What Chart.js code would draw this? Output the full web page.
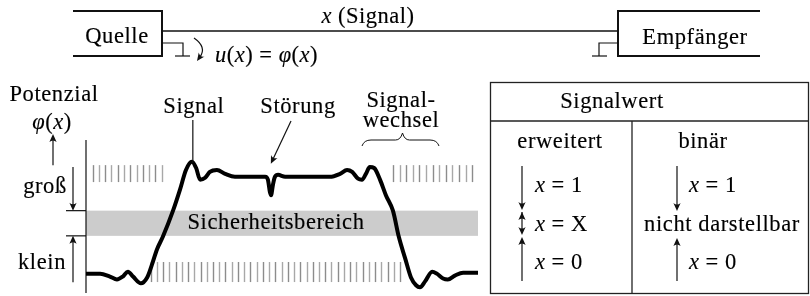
<!DOCTYPE html>
<html><head><meta charset="utf-8">
<script src="https://cdn.jsdelivr.net/npm/chart.js@4/dist/chart.umd.min.js"></script>
<style>html,body{margin:0;padding:0;background:#fff}canvas{display:block}</style>
</head><body>
<canvas id="c" width="810" height="296"></canvas>
<script>
// ---------- data (time t in arbitrary units 0..100, potential v: 0 = klein, 1 = groß) ----------
const sigT = [0,3.6,6.1,7.9,9.4,10.7,12,14,15.6,16.8,18.1,19.6,22.2,24,25.5,27,28.1,29.1,30.4,31.6,33.4,35.5,38,45.7,46.4,46.9,47.2,47.7,48.2,49,50.8,62.2,64.8,66.6,67.9,69.4,70.4,71.4,72.4,73.5,75,76.5,78.3,79.8,81.4,82.9,84.2,85.2,86.5,88.3,89.5,91.1,92.3,94.1,96.2,100];
const sigV = [0,0,-0.03,-0.06,-0.03,0.02,-0.03,-0.10,-0.04,0.09,0.25,0.38,0.65,0.87,1.07,1.155,1.09,0.97,0.99,1.05,1.07,1.03,1.0,1.0,0.97,0.845,0.81,0.92,1.0,1.02,1.0,1.0,1.03,1.07,1.05,0.98,0.97,1.03,1.10,1.09,0.97,0.81,0.65,0.38,0.16,-0.04,-0.12,-0.14,-0.08,0.02,0,-0.05,-0.06,-0.02,0.01,0.01];
const safeBand = [0.39, 0.65];
const hatchHighLeft  = {from: 1.7,  to: 19.3, count: 12, vLo: 0.945, vHi: 1.12};
const hatchHighRight = {from: 78.3, to: 98.5, count: 13, vLo: 0.945, vHi: 1.12};
const hatchLow       = {from: 16.5, to: 80.1, count: 41, vLo: -0.087, vHi: 0.12};
const peakT = 27, peakV = 1.155;      // Signal label target
const glitchT = 46.9, glitchV = 1.0;  // Störung label target

const txtTop = {source: 'Quelle', sink: 'Empfänger', signal: 'Signal'};
const levelLabels = {high: 'groß', low: 'klein', band: 'Sicherheitsbereich', axis: 'Potenzial'};
const noteLabels = {signal: 'Signal', glitch: 'Störung', change1: 'Signal-', change2: 'wechsel'};
const tableHead = 'Signalwert';
const tableCols = ['erweitert', 'binär'];
const tableRowsExt = ['1', 'X', '0'];
const tableRowsBin = ['1', 'nicht darstellbar', '0'];

// ---------- helpers ----------
const FONT = '"Liberation Serif", "DejaVu Serif", serif';
function setFont(ctx, italic, size) {
  ctx.font = (italic ? 'italic ' : '') + (size || 22.5) + 'px ' + FONT;
}
function paint(ctx, s, x, y) {
  ctx.fillText(s, x, y);
  ctx.lineWidth = 0.15; ctx.strokeStyle = '#000'; ctx.strokeText(s, x, y);
}
function drawText(ctx, s, x, y, align) {
  ctx.save(); setFont(ctx, false); ctx.letterSpacing = '0.6px';
  ctx.textAlign = align || 'center'; ctx.textBaseline = 'middle'; ctx.fillStyle = '#000';
  paint(ctx, s, x, y); ctx.restore();
}
// segs: [text, italic]
function drawRich(ctx, segs, x, y, align) {
  ctx.save(); ctx.textBaseline = 'middle'; ctx.textAlign = 'left'; ctx.fillStyle = '#000';
  ctx.letterSpacing = '0.5px';
  let w = 0;
  segs.forEach(s => { setFont(ctx, s[1]); w += ctx.measureText(s[0]).width; });
  let cx = align === 'center' ? x - w / 2 : x;
  segs.forEach(s => { setFont(ctx, s[1]); paint(ctx, s[0], cx, y); cx += ctx.measureText(s[0]).width; });
  ctx.restore();
}
function line(ctx, pts, w, col) {
  ctx.save(); ctx.beginPath(); ctx.lineWidth = w || 1.2; ctx.strokeStyle = col || '#111';
  ctx.moveTo(pts[0][0], pts[0][1]);
  for (let i = 1; i < pts.length; i++) ctx.lineTo(pts[i][0], pts[i][1]);
  ctx.stroke(); ctx.restore();
}
function head(ctx, x, y, ang) {
  const L = 8, W = 3.6;
  ctx.save(); ctx.translate(x, y); ctx.rotate(ang); ctx.fillStyle = '#111';
  ctx.beginPath(); ctx.moveTo(0, 0); ctx.lineTo(-L, -W); ctx.quadraticCurveTo(-L * 0.6, 0, -L, W);
  ctx.closePath(); ctx.fill(); ctx.restore();
}
function arrow(ctx, x1, y1, x2, y2, both) {
  const a = Math.atan2(y2 - y1, x2 - x1);
  line(ctx, [[x1, y1], [x2 - Math.cos(a) * 3, y2 - Math.sin(a) * 3]], 1.2);
  head(ctx, x2, y2, a);
  if (both) head(ctx, x1, y1, a + Math.PI);
}

const decor = {
  id: 'decor',
  beforeDatasetsDraw(chart) {
    const ctx = chart.ctx, xs = chart.scales.x, ys = chart.scales.y;
    const X = v => xs.getPixelForValue(v), Y = v => ys.getPixelForValue(v);
    ctx.save(); ctx.fillStyle = '#cccccc';
    ctx.fillRect(X(0), Y(safeBand[1]), X(100) - X(0), Y(safeBand[0]) - Y(safeBand[1]));
    ctx.restore();
    drawText(ctx, levelLabels.band, (X(0) + X(100)) / 2 - 6, (Y(safeBand[0]) + Y(safeBand[1])) / 2);
    [hatchHighLeft, hatchHighRight, hatchLow].forEach(h => {
      const step = (h.to - h.from) / (h.count - 1);
      for (let i = 0; i < h.count; i++) {
        const px = Math.round(X(h.from + i * step)) + 0.5;
        line(ctx, [[px, Y(h.vHi)], [px, Y(h.vLo)]], 1.4, i % 2 ? '#a8a8a8' : '#8c8c8c');
      }
    });
    const ax = X(0);
    line(ctx, [[ax, Y(1.38)], [ax, chart.chartArea.bottom]], 1.2);
    line(ctx, [[ax - 20, Y(safeBand[1])], [ax, Y(safeBand[1])]], 1.2);
    line(ctx, [[ax - 20, Y(safeBand[0])], [ax, Y(safeBand[0])]], 1.2);
  },
  afterDatasetsDraw(chart) {
    const ctx = chart.ctx, xs = chart.scales.x, ys = chart.scales.y;
    const X = v => xs.getPixelForValue(v), Y = v => ys.getPixelForValue(v);
    const ax = X(0);
    arrow(ctx, ax - 13, Y(1.1), ax - 13, Y(safeBand[1]));
    drawText(ctx, levelLabels.high, 45, Y(0.89));
    arrow(ctx, ax - 13, Y(-0.09), ax - 13, Y(safeBand[0]));
    drawText(ctx, levelLabels.low, 42, Y(0.11));
    drawText(ctx, levelLabels.axis, 54, 95);
    drawRich(ctx, [['φ', true], ['(', false], ['x', true], [')', false]], 52, 123, 'center');
    arrow(ctx, 53, Y(1.12), 53, 134);
    drawText(ctx, noteLabels.signal, X(peakT) + 2, 107);
    line(ctx, [[X(peakT) + 1, 120], [X(peakT) + 1, Y(peakV) + 1]], 1.2);
    drawText(ctx, noteLabels.glitch, 298, 107);
    arrow(ctx, 291, 121, X(glitchT) + 1, Y(glitchV) - 13);
    drawText(ctx, noteLabels.change1, 401, 101);
    drawText(ctx, noteLabels.change2, 401, 121);
    const bx1 = 362, bx2 = 439, bm = (bx1 + bx2) / 2 + 2;
    ctx.save(); ctx.beginPath(); ctx.lineWidth = 1; ctx.strokeStyle = '#111';
    ctx.moveTo(bx1, 146); ctx.quadraticCurveTo(bx1 + 2, 140, bx1 + 9, 140);
    ctx.lineTo(bm - 7, 140); ctx.quadraticCurveTo(bm - 2, 140, bm, 133);
    ctx.quadraticCurveTo(bm + 2, 140, bm + 7, 140); ctx.lineTo(bx2 - 9, 140);
    ctx.quadraticCurveTo(bx2 - 2, 140, bx2, 146); ctx.stroke(); ctx.restore();

    // top diagram
    line(ctx, [[73, 11], [162, 11], [162, 56], [73, 56]], 2);
    drawText(ctx, txtTop.source, 117, 37);
    line(ctx, [[760, 11], [618, 11], [618, 56], [760, 56]], 2);
    drawText(ctx, txtTop.sink, 695, 38);
    line(ctx, [[162, 31], [618, 31]], 1.3);
    drawRich(ctx, [['x', true], [' (' + txtTop.signal + ')', false]], 368, 17, 'center');
    line(ctx, [[162, 43], [183, 43], [183, 56]], 1.2);
    line(ctx, [[175, 56], [190, 56]], 1.2);
    line(ctx, [[618, 43], [599, 43], [599, 56]], 1.2);
    line(ctx, [[592, 56], [607, 56]], 1.2);
    ctx.save(); ctx.beginPath(); ctx.lineWidth = 1.2; ctx.strokeStyle = '#111';
    ctx.moveTo(194, 38); ctx.quadraticCurveTo(207, 47, 200, 57); ctx.stroke(); ctx.restore();
    head(ctx, 197, 61, Math.atan2(61 - 54, 197 - 202));
    drawRich(ctx, [['u', true], ['(', false], ['x', true], [') = ', false], ['φ', true], ['(', false], ['x', true], [')', false]], 215, 56, 'left');

    // table
    ctx.save(); ctx.strokeStyle = '#222'; ctx.lineWidth = 1.3;
    ctx.strokeRect(490.5, 82.5, 318, 211); ctx.restore();
    line(ctx, [[490, 121], [809, 121]], 1.3, '#222');
    line(ctx, [[632, 121], [632, 294]], 1.3, '#222');
    drawText(ctx, tableHead, 612, 102);
    drawText(ctx, tableCols[0], 560, 142);
    drawText(ctx, tableCols[1], 703, 142);
    const rowsY = [186, 225, 263];
    arrow(ctx, 522, 166, 522, 210);
    arrow(ctx, 522, 212, 522, 235, true);
    arrow(ctx, 522, 281, 522, 237);
    tableRowsExt.forEach((r, i) => drawRich(ctx, [['x', true], [' = ' + r, false]], 535, rowsY[i], 'left'));
    arrow(ctx, 677, 166, 677, 211);
    arrow(ctx, 677, 281, 677, 238);
    drawRich(ctx, [['x', true], [' = ' + tableRowsBin[0], false]], 689, rowsY[0], 'left');
    drawText(ctx, tableRowsBin[1], 722, rowsY[1]);
    drawRich(ctx, [['x', true], [' = ' + tableRowsBin[2], false]], 689, rowsY[2], 'left');
  }
};

new Chart(document.getElementById('c'), {
  type: 'line',
  data: {
    datasets: [{
      data: sigT.map((t, i) => ({x: t, y: sigV[i]})),
      borderColor: '#000', borderWidth: 4, pointRadius: 0,
      cubicInterpolationMode: 'monotone', borderJoinStyle: 'round', fill: false
    }]
  },
  options: {
    responsive: false, devicePixelRatio: 1, animation: false,
    layout: {padding: {left: 86, right: 332, top: 138, bottom: 3}},
    scales: {
      x: {type: 'linear', min: 0, max: 100, display: false},
      y: {type: 'linear', min: -0.2, max: 1.4, display: false}
    },
    plugins: {legend: {display: false}, tooltip: {enabled: false}}
  },
  plugins: [decor]
});
</script>
</body></html>
